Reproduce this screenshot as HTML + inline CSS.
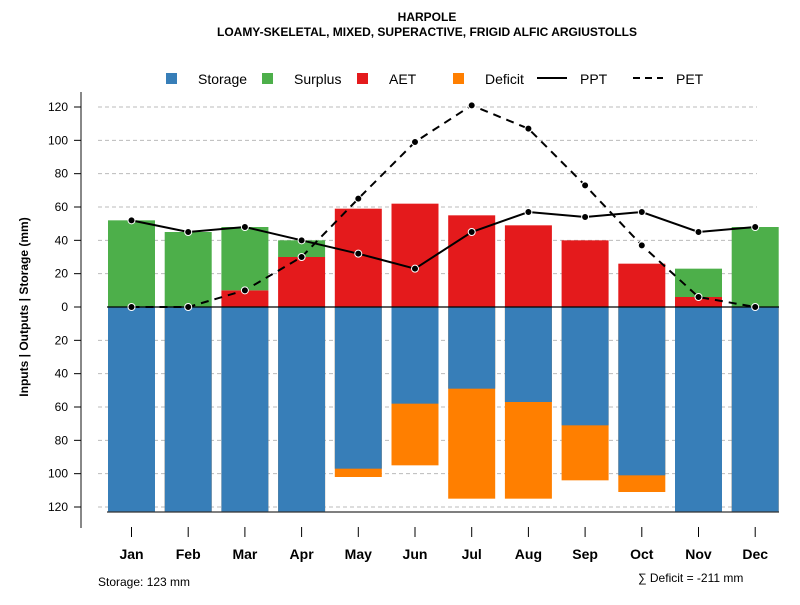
<!DOCTYPE html>
<html><head><meta charset="utf-8"><style>
body{margin:0;background:#fff;}
svg text{font-family:"Liberation Sans",sans-serif;}
</style></head><body>
<svg id="c" width="800" height="600" xmlns="http://www.w3.org/2000/svg">
<text x="427" y="21" text-anchor="middle" font-size="12" font-weight="bold">HARPOLE</text>
<text x="427" y="36" text-anchor="middle" font-size="12" font-weight="bold">LOAMY-SKELETAL, MIXED, SUPERACTIVE, FRIGID ALFIC ARGIUSTOLLS</text>
<g id="legend">
<rect x="166" y="73" width="11" height="11" fill="#377EB8"/><text x="198" y="84" font-size="14">Storage</text>
<rect x="262" y="73" width="11" height="11" fill="#4DAF4A"/><text x="294" y="84" font-size="14">Surplus</text>
<rect x="357" y="73" width="11" height="11" fill="#E41A1C"/><text x="389" y="84" font-size="14">AET</text>
<rect x="453" y="73" width="11" height="11" fill="#FF7F00"/><text x="485" y="84" font-size="14">Deficit</text>
<line x1="537" y1="78" x2="567" y2="78" stroke="#000" stroke-width="2"/><text x="580" y="84" font-size="14">PPT</text>
<line x1="633" y1="78" x2="663" y2="78" stroke="#000" stroke-width="2" stroke-dasharray="7,5"/><text x="676" y="84" font-size="14">PET</text>
</g>
<text transform="translate(28,307) rotate(-90)" text-anchor="middle" font-size="12" font-weight="bold">Inputs | Outputs | Storage    (mm)</text>
<text x="98" y="586" font-size="12">Storage: 123 mm</text>
<text x="638" y="582" font-size="12">∑ Deficit = -211 mm</text>
<g id="plot"></g>
</svg>
<script>
const months=["Jan","Feb","Mar","Apr","May","Jun","Jul","Aug","Sep","Oct","Nov","Dec"];
const surplus=[52,45,38,10,0,0,0,0,0,0,17,48];
const aet=[0,0,10,30,59,62,55,49,40,26,6,0];
const storage=[123,123,123,123,97,58,49,57,71,101,123,123];
const deficit=[0,0,0,0,5,37,66,58,33,10,0,0];
const ppt=[52,45,48,40,32,23,45,57,54,57,45,48];
const pet=[0,0,10,30,65,99,121,107,73,37,6,0];
const yTicks=[120,100,80,60,40,20,0,20,40,60,80,100,120];
const ns="http://www.w3.org/2000/svg";
const g=document.getElementById("plot");
const y=v=>307-v*200/120;
const x=i=>131.5+i*56.7;
const bw=47;
function mk(t,a){const e=document.createElementNS(ns,t);for(const k in a)e.setAttribute(k,a[k]);g.appendChild(e);return e;}
// grid
for(let k=1;k<=6;k++){[1,-1].forEach(s=>{const l=mk("line",{x1:98,x2:757,y1:y(s*k*20),y2:y(s*k*20),stroke:"#bbb","stroke-dasharray":"4,3"});

});}
// axis
const ax=mk("line",{x1:81,x2:81,y1:92,y2:528,stroke:"#888","stroke-width":2});


yTicks.forEach((t,i)=>{const v=(6-i)*20;const yy=y(v);
mk("line",{x1:74,x2:81,y1:yy,y2:yy,stroke:"#000"});
const tx=mk("text",{x:68,y:yy+4,"text-anchor":"end","font-size":12});tx.textContent=t;

});
months.forEach((m,i)=>{
 const cx=x(i),l=cx-bw/2;
 let r=mk("rect",{x:l,y:y(0),width:bw,height:y(-deficit[i]-storage[i])-y(0),fill:"#FF7F00"});
 
 
 r=mk("rect",{x:l,y:y(0),width:bw,height:y(-storage[i])-y(0),fill:"#377EB8"});
 
 
 r=mk("rect",{x:l,y:y(aet[i]),width:bw,height:y(0)-y(aet[i]),fill:"#E41A1C"});
 
 
 r=mk("rect",{x:l,y:y(aet[i]+surplus[i]),width:bw,height:y(aet[i])-y(aet[i]+surplus[i]),fill:"#4DAF4A"});
 
 
 mk("line",{x1:cx,x2:cx,y1:527,y2:537,stroke:"#000"});
 const t=mk("text",{x:cx,y:559,"text-anchor":"middle","font-size":14,"font-weight":"bold"});t.textContent=m;
 
 
});
const zl=mk("line",{x1:107,x2:779,y1:y(0),y2:y(0),stroke:"#000","stroke-width":1.2});


const bl=mk("line",{x1:107,x2:779,y1:y(-123),y2:y(-123),stroke:"#333","stroke-width":1.2});


const pp=mk("polyline",{points:ppt.map((v,i)=>x(i)+","+y(v)).join(" "),fill:"none",stroke:"#000","stroke-width":2});


const pe=mk("polyline",{points:pet.map((v,i)=>x(i)+","+y(v)).join(" "),fill:"none",stroke:"#000","stroke-width":2,"stroke-dasharray":"8,6"});


[ppt,pet].forEach((s,j)=>s.forEach((v,i)=>{const c=mk("circle",{cx:x(i),cy:y(v),r:3.5,fill:"#000",stroke:"#fff","stroke-width":1});

}));
</script>
</body></html>
